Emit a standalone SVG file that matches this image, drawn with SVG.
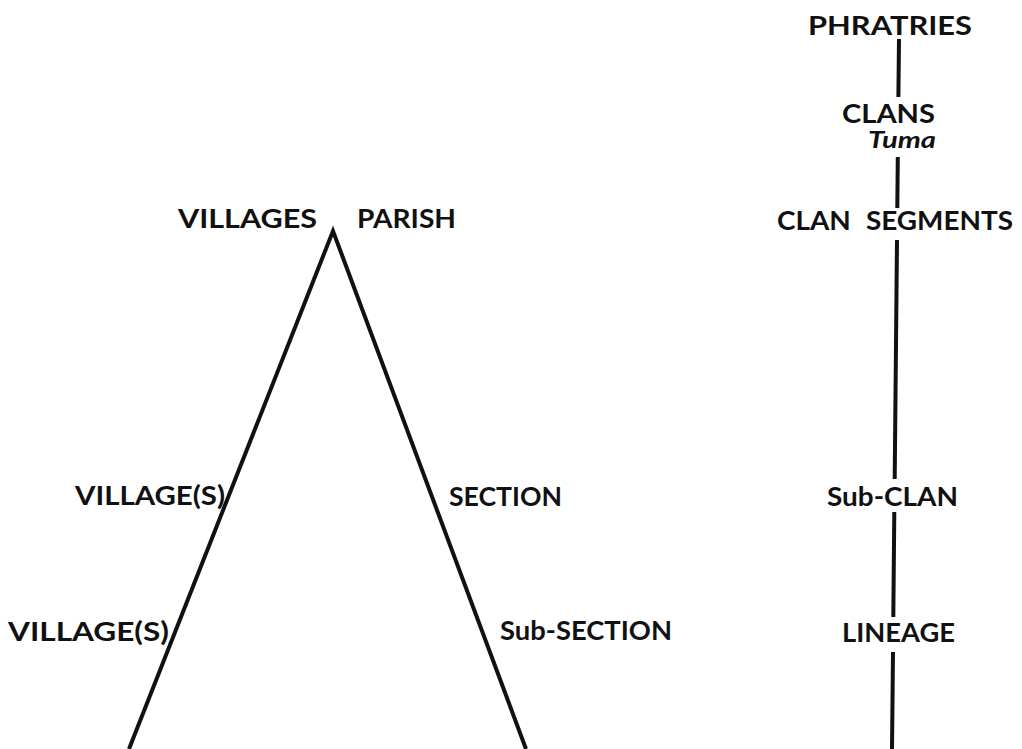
<svg xmlns="http://www.w3.org/2000/svg" width="1022" height="749" viewBox="0 0 1022 749">
<style>
.l{font-family:Lato,"Open Sans","DejaVu Sans",sans-serif;font-weight:700;font-size:27px;fill:#111}
.i{font-family:Lato,"Open Sans","DejaVu Sans",sans-serif;font-weight:700;font-style:italic;font-size:22px;fill:#111}
.c{stroke:#111;stroke-width:4;fill:none;stroke-linecap:butt}
</style>
<rect width="1022" height="749" fill="#fff"/>
<g id="connectors">
<polyline class="c" points="129,749 333,231 526,749"/>
<line class="c" x1="899" y1="39" x2="898.4" y2="97"/>
<line class="c" x1="897.8" y1="157" x2="897.3" y2="208"/>
<line class="c" x1="897" y1="240" x2="894.7" y2="479"/>
<line class="c" x1="894.3" y1="512" x2="893.3" y2="617"/>
<line class="c" x1="893" y1="652" x2="892" y2="749"/>
</g>
<g id="villages-parish">
<text class="l" x="178" y="228" textLength="139" lengthAdjust="spacingAndGlyphs">VILLAGES</text>
<text class="l" x="357" y="228" textLength="99" lengthAdjust="spacingAndGlyphs">PARISH</text>
</g>
<g id="village-s-1"><text class="l" x="75" y="505" textLength="150" lengthAdjust="spacingAndGlyphs">VILLAGE(S)</text></g>
<g id="section"><text class="l" x="449" y="506" textLength="113" lengthAdjust="spacingAndGlyphs">SECTION</text></g>
<g id="village-s-2"><text class="l" x="8" y="641" textLength="161" lengthAdjust="spacingAndGlyphs">VILLAGE(S)</text></g>
<g id="sub-section"><text class="l" x="500" y="640" textLength="172" lengthAdjust="spacingAndGlyphs">Sub-SECTION</text></g>
<g id="phratries"><text class="l" x="808" y="35" textLength="164" lengthAdjust="spacingAndGlyphs">PHRATRIES</text></g>
<g id="clans">
<text class="l" x="842" y="123" textLength="93" lengthAdjust="spacingAndGlyphs">CLANS</text>
<text class="i" x="868" y="148" textLength="68" lengthAdjust="spacingAndGlyphs">Tuma</text>
</g>
<g id="clan-segments"><text class="l" x="777" y="230" textLength="236" lengthAdjust="spacingAndGlyphs" style="word-spacing:8px">CLAN SEGMENTS</text></g>
<g id="sub-clan"><text class="l" x="827" y="506" textLength="131" lengthAdjust="spacingAndGlyphs">Sub-CLAN</text></g>
<g id="lineage"><text class="l" x="842" y="642" textLength="113" lengthAdjust="spacingAndGlyphs">LINEAGE</text></g>
</svg>
